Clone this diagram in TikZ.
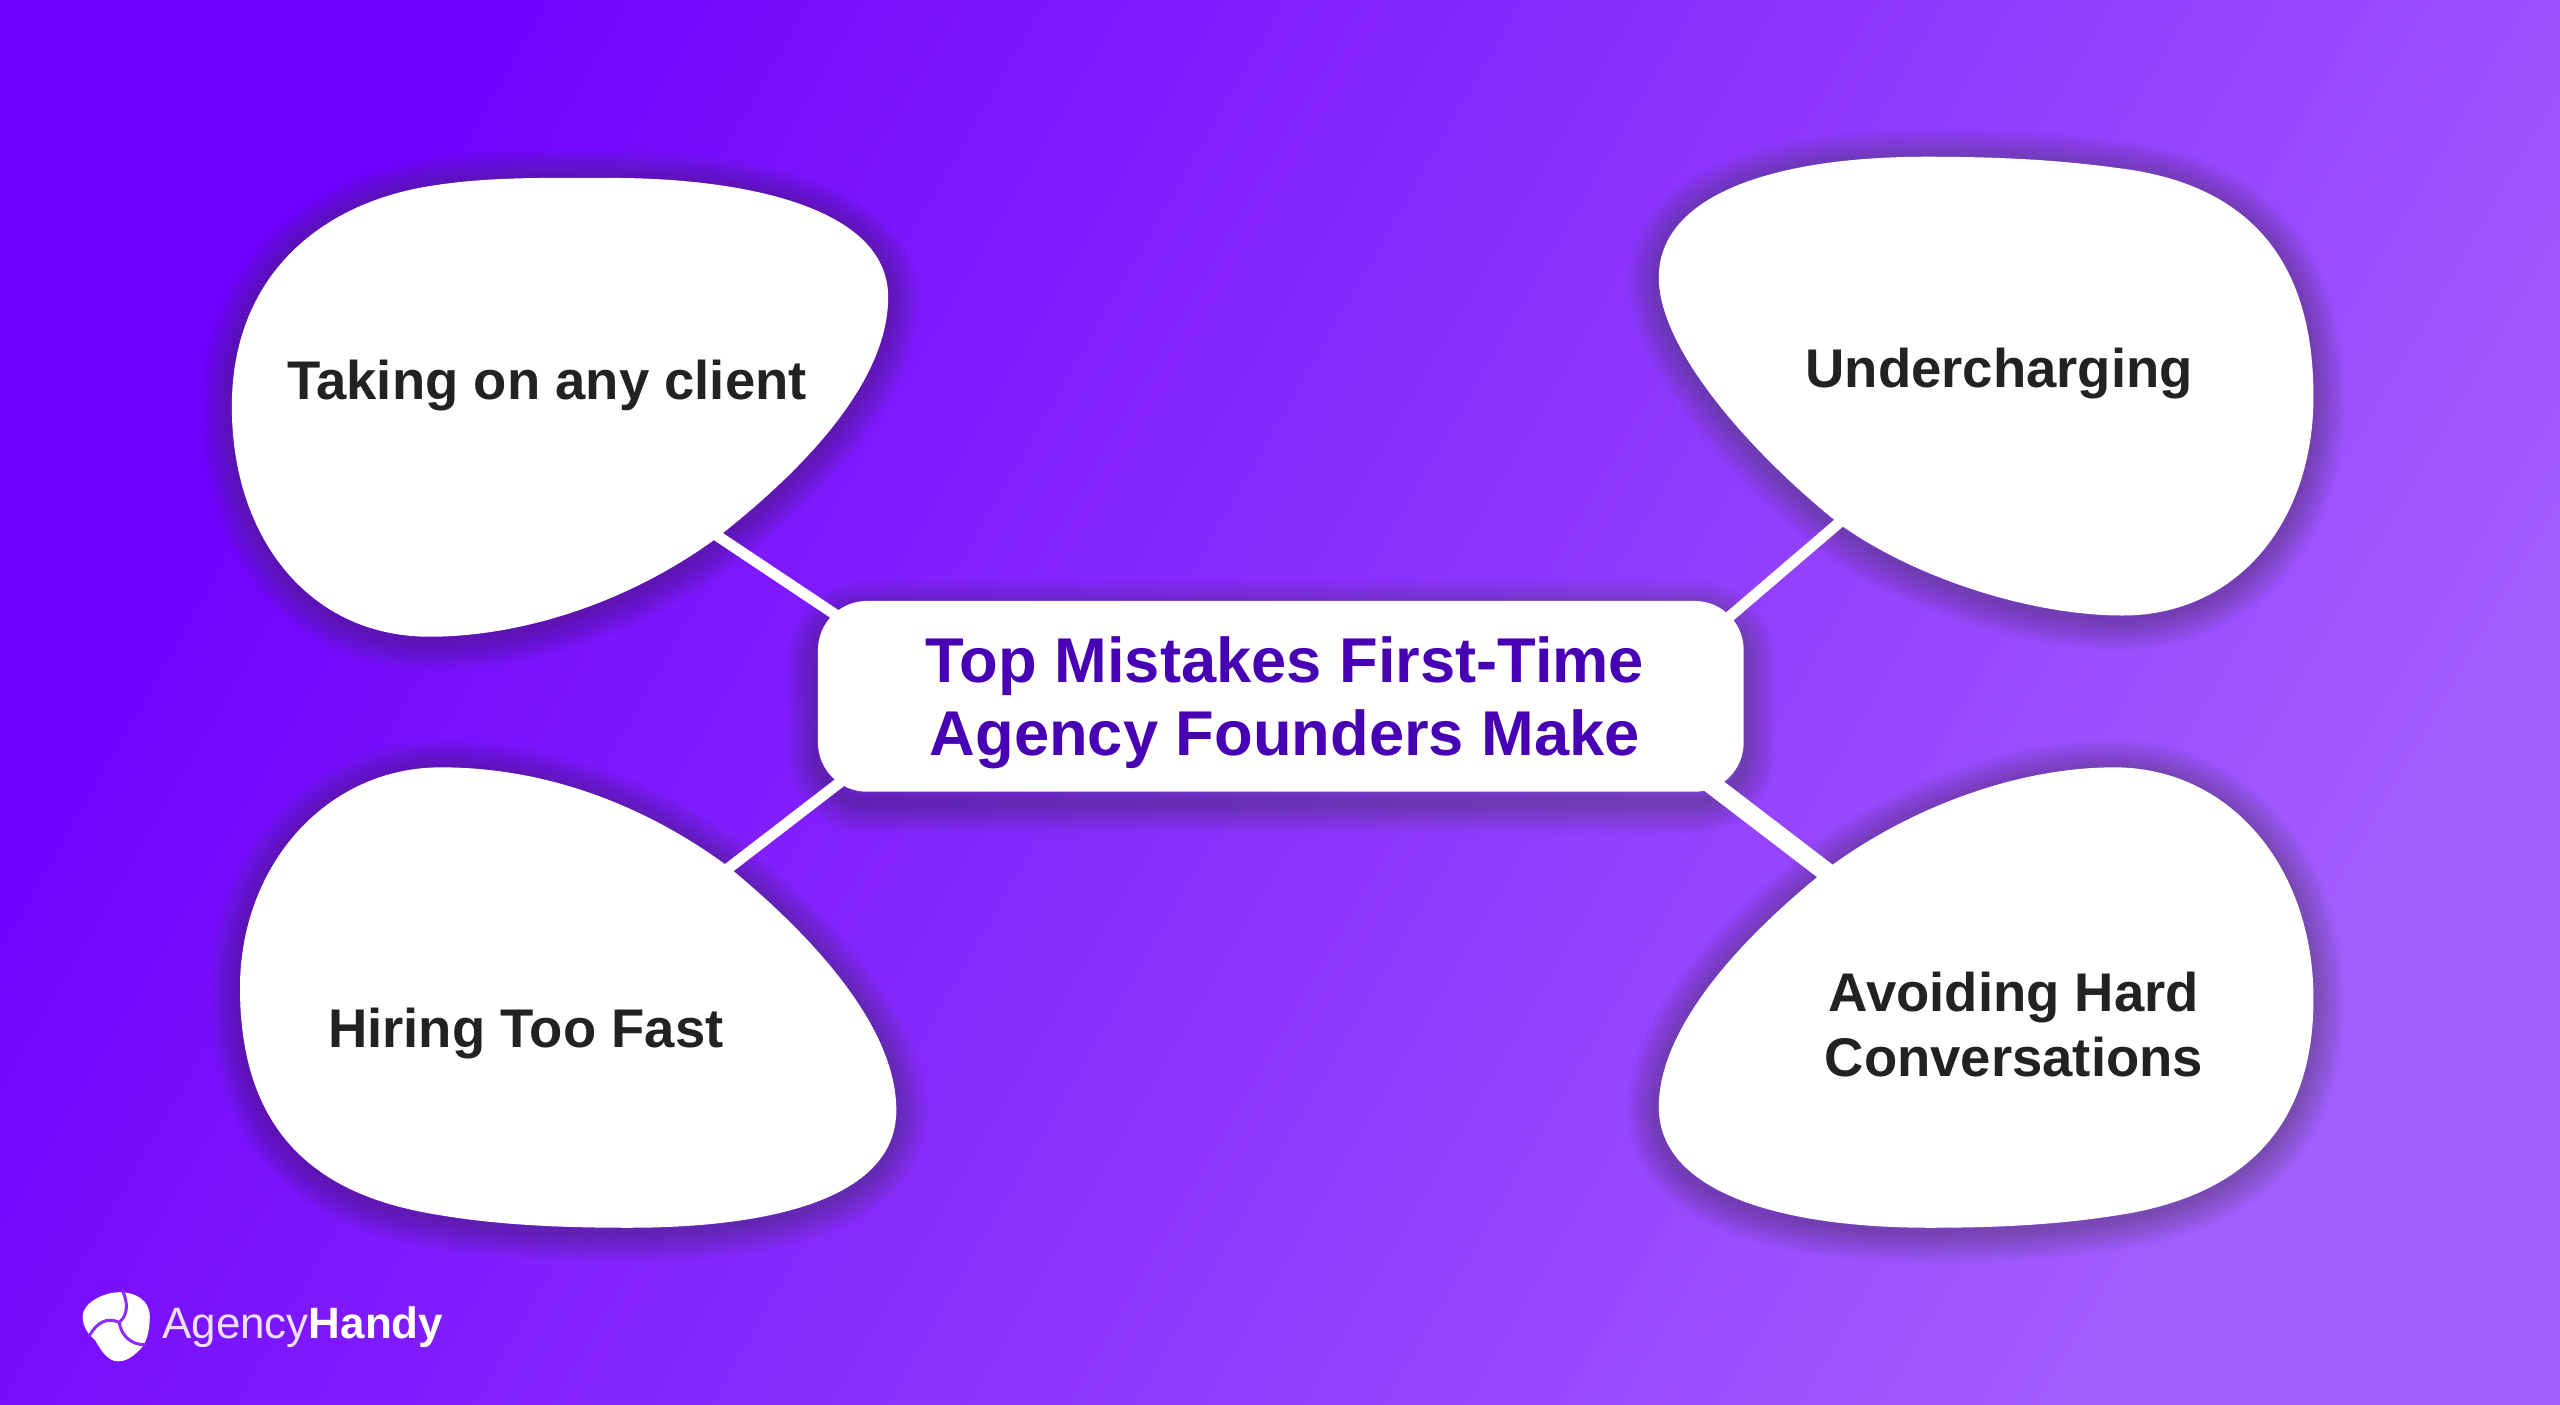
\documentclass[tikz,border=0pt]{standalone}
\usepackage{fontspec}
\setmainfont{Liberation Sans}
\definecolor{bgA}{HTML}{7000FF}
\definecolor{bgB}{HTML}{A45EFF}
\definecolor{shadowc}{HTML}{3C3C3C}
\definecolor{titlec}{HTML}{4700B3}
\definecolor{bodyc}{HTML}{222222}
\definecolor{swirlc}{HTML}{8A2CFF}
\tikzset{
  blobfill/.style={fill=white,draw=none},
  blobtext/.style={font=\fontsize{15.5}{18.6}\selectfont\bfseries,text=bodyc,align=center,inner sep=0pt},
  titlebox/.style={fill=white,draw=none,rounded corners=14pt,minimum width=263.4pt,minimum height=54.3pt,inner sep=0pt},
  titletext/.style={inner sep=0pt,font=\fontsize{18}{21}\selectfont\bfseries,text=titlec,align=center},
  link/.style={draw=white,line width=3.1pt},
  swirl/.style={draw=swirlc,line width=0.85pt,line cap=round},
}
\newcommand{\softshadow}[3]{%
  \begin{scope}[xshift=#1,yshift=#2]
  \foreach \w in {1,2,...,18}{\draw[line width=\w pt,draw=shadowc,draw opacity=0.024,line join=round] #3;}
  \end{scope}}
\def\blobA{(375,109) .. controls (450,109) and (544,125) .. (544,182) .. controls (544,235) and (490,290) .. (437,331) .. controls (380,372) and (315,390) .. (263,390) .. controls (190,390) and (142,330) .. (142,249) .. controls (142,170) and (195,125) .. (263,114) .. controls (300,108) and (335,109) .. (375,109) -- cycle}
\def\blobB{(1180,96) .. controls (1235,96) and (1270,99) .. (1305,104) .. controls (1395,118) and (1417,180) .. (1417,243) .. controls (1417,320) and (1370,377) .. (1300,377) .. controls (1245,377) and (1175,355) .. (1128,322) .. controls (1075,280) and (1016,215) .. (1016,170) .. controls (1016,120) and (1085,96) .. (1180,96) -- cycle}
\def\blobC{(270,470) .. controls (340,470) and (400,497) .. (445,530) .. controls (500,575) and (549,630) .. (549,680) .. controls (549,735) and (470,752) .. (385,752) .. controls (340,752) and (300,750) .. (262,743) .. controls (190,730) and (147,690) .. (147,605) .. controls (147,530) and (200,470) .. (270,470) -- cycle}
\def\blobD{(1295,470) .. controls (1365,470) and (1417,530) .. (1417,612) .. controls (1417,690) and (1375,730) .. (1305,743) .. controls (1265,750) and (1225,752) .. (1182,752) .. controls (1090,752) and (1016,730) .. (1016,678) .. controls (1016,630) and (1065,575) .. (1122,530) .. controls (1170,495) and (1235,470) .. (1295,470) -- cycle}
\def\titlerect{[rounded corners=14pt] (501,368) rectangle (1068,485)}
\begin{document}
\begin{tikzpicture}[x=0.016327cm,y=-0.016327cm]
\useasboundingbox (0,0) rectangle (1568,860);
\shade[bottom color=bgA,top color=bgB,shading angle=240] (0,0) rectangle (1568,860);
% shadows
\softshadow{0pt}{-1pt}{\blobA}
\softshadow{0pt}{-1pt}{\blobB}
\softshadow{0pt}{-1pt}{\blobC}
\softshadow{0pt}{-1pt}{\blobD}
\softshadow{0pt}{-3pt}{\titlerect}
% blobs
\fill[blobfill] \blobA;
\fill[blobfill] \blobB;
\fill[blobfill] \blobC;
\fill[blobfill] \blobD;
% anchors on blob edges
\coordinate (edgeA) at (436,326);
\coordinate (edgeB) at (1129,318);
\coordinate (edgeC) at (442,535);
\coordinate (edgeD) at (1125,539);
\coordinate (titleA) at (514,378);
\coordinate (titleB) at (1059,378);
\coordinate (titleC) at (516,478);
\coordinate (titleD) at (1044,477);
\draw[link] (edgeA) -- (titleA);
\draw[link] (edgeB) -- (titleB);
\draw[link] (edgeC) -- (titleC);
\draw[link,line width=5.5pt] (edgeD) -- (titleD);
% title
\node[titlebox] (title) at (784.5,426.5) {};
\node[titletext] (titleText) at (787,430.5) {Top Mistakes First-Time\\Agency Founders Make};
% labels
\node[blobtext] (labelA) at (335,236) {Taking on any client};
\node[blobtext] (labelB) at (1224.5,229) {Undercharging};
\node[blobtext] (labelC) at (322,633) {Hiring Too Fast};
\node[blobtext] (labelD) at (1233.5,627.5) {Avoiding Hard\\Conversations};
% logo
\begin{scope}[shift={(36.75,771.7)},x=0.003333cm,y=-0.003333cm]
\fill[white] (180,97) .. controls (225,97) and (270,120) .. (270,170) .. controls (270,215) and (260,250) .. (240,270) .. controls (215,295) and (195,305) .. (175,305) .. controls (140,305) and (120,265) .. (105,240) .. controls (85,225) and (68,200) .. (68,170) .. controls (68,130) and (130,97) .. (180,97) -- cycle;
\draw[swirl] (188,92) .. controls (205,130) and (205,165) .. (178,188);
\draw[swirl] (178,188) .. controls (140,170) and (110,190) .. (88,228);
\draw[swirl] (178,188) .. controls (185,230) and (215,255) .. (255,255);
\end{scope}
\node[anchor=base west,inner sep=0pt,text=white,font=\fontsize{12.5}{15}\selectfont] (logo) at (99,820) {{\color{white!88!bgA}Agency}{\bfseries Handy}};
\end{tikzpicture}
\end{document}
